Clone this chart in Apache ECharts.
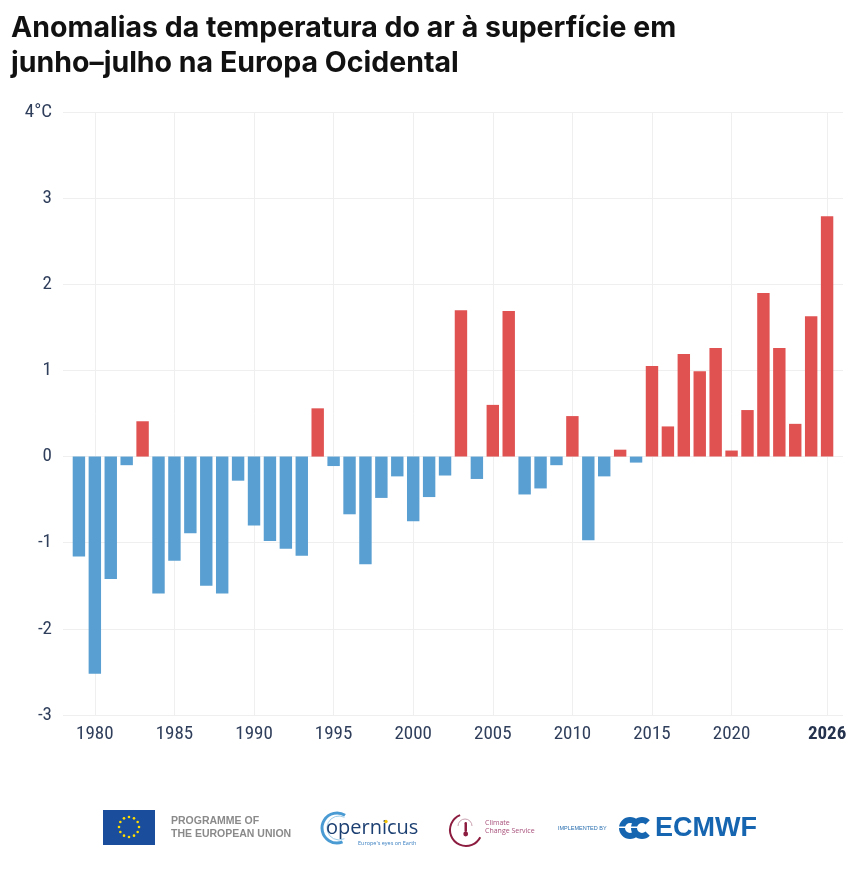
<!DOCTYPE html>
<html>
<head>
<meta charset="utf-8">
<script src="https://cdn.jsdelivr.net/npm/echarts@6/dist/echarts.min.js"></script>
<style>
html,body{margin:0;padding:0;background:#fff;}
#chart{width:860px;height:869px;}
</style>
</head>
<body>
<div id="chart"></div>
<script>
// ---- data ----
var titleLines = ['Anomalias da temperatura do ar à superfície em', 'junho–julho na Europa Ocidental'];
var years = [1979,1980,1981,1982,1983,1984,1985,1986,1987,1988,1989,1990,1991,1992,1993,1994,1995,1996,1997,1998,1999,2000,2001,2002,2003,2004,2005,2006,2007,2008,2009,2010,2011,2012,2013,2014,2015,2016,2017,2018,2019,2020,2021,2022,2023,2024,2025,2026];
var anomalies = [-1.16,-2.52,-1.42,-0.10,0.41,-1.59,-1.21,-0.89,-1.50,-1.59,-0.28,-0.80,-0.98,-1.07,-1.15,0.56,-0.11,-0.67,-1.25,-0.48,-0.23,-0.75,-0.47,-0.22,1.70,-0.26,0.60,1.69,-0.44,-0.37,-0.10,0.47,-0.97,-0.23,0.08,-0.07,1.05,0.35,1.19,0.99,1.26,0.07,0.54,1.90,1.26,0.38,1.63,2.79];
var labelYears = [1980,1985,1990,1995,2000,2005,2010,2015,2020,2026];
var highlightYear = 2026;
var yTicks = {min:-3, max:4, interval:1, unit:'°C'};

// padded categories (one empty slot either side)
var cats = [String(years[0]-1)].concat(years.map(String)).concat([String(years[years.length-1]+1)]);
var vals = [null].concat(anomalies).concat([null]);

var posColor = '#e05252';
var negColor = '#5a9fd1';
var tickFont = "'Roboto Condensed','Liberation Sans Narrow','Arial Narrow',Roboto,sans-serif";
var tickColor = '#2f3e5b';

function isLabelYear(idx, val){ return labelYears.indexOf(Number(val)) >= 0; }

// footer decoration
var stars = [];
for (var i=0;i<12;i++){
  var a = i*Math.PI/6;
  stars.push({type:'circle', shape:{cx:129+10*Math.cos(a), cy:827+10*Math.sin(a), r:1.3}, style:{fill:'#ffdd00'}, silent:true});
}

var chart = echarts.init(document.getElementById('chart'), null, {renderer:'canvas'});
chart.setOption({
  animation:false,
  backgroundColor:'#ffffff',
  title:{
    text: titleLines.join('\n'),
    left: 6, top: 6,
    textStyle:{fontFamily:'Inter, "Noto Sans", sans-serif', fontWeight:700, fontSize:28.5, lineHeight:35, color:'#111111'}
  },
  grid:{left:63, right:17, top:112, bottom:154, containLabel:false},
  xAxis:{
    type:'category',
    data:cats,
    boundaryGap:false,
    axisLine:{show:false},
    axisTick:{show:false},
    axisLabel:{
      interval:isLabelYear,
      margin:10,
      fontFamily:tickFont, fontSize:19, color:tickColor,
      formatter:function(v){ return Number(v)===highlightYear ? '{b|'+v+'}' : v; },
      rich:{b:{fontFamily:tickFont, fontSize:19, fontWeight:'bold', color:'#24324d'}}
    },
    splitLine:{show:true, interval:isLabelYear, lineStyle:{color:'#efefef', width:1}}
  },
  yAxis:{
    type:'value',
    min:yTicks.min, max:yTicks.max, interval:yTicks.interval,
    axisLine:{show:false}, axisTick:{show:false},
    axisLabel:{
      margin:11,
      fontFamily:tickFont, fontSize:19, color:tickColor,
      formatter:function(v){ return v===yTicks.max ? v+yTicks.unit : String(v); }
    },
    splitLine:{lineStyle:{color:'#efefef', width:1}}
  },
  series:[{
    type:'bar',
    data:vals,
    barWidth:'78%',
    itemStyle:{color:function(p){ return p.value>=0 ? posColor : negColor; }}
  }],
  graphic:[
    {type:'rect', shape:{x:103, y:810, width:52, height:35}, style:{fill:'#1a4d9c'}, silent:true}
  ].concat(stars).concat([
    {type:'text', x:171, y:815, style:{text:'PROGRAMME OF\nTHE EUROPEAN UNION', fill:'#8a8a8a', font:'bold 10.5px "Liberation Sans", Arial, sans-serif', lineHeight:12.5}, silent:true},
    // Copernicus
    {type:'arc', shape:{cx:337, cy:828, r:15, startAngle:-Math.PI*0.32, endAngle:Math.PI*0.38, clockwise:false}, style:{stroke:'#4a9bd3', lineWidth:3, fill:null}, silent:true},
    {type:'arc', shape:{cx:339, cy:828, r:12, startAngle:-Math.PI*0.35, endAngle:Math.PI*0.35, clockwise:false}, style:{stroke:'#9ccbe8', lineWidth:1, fill:null}, silent:true},
    {type:'text', x:326, y:818, style:{text:'opernicus', fill:'#1c3f72', font:'20px "Open Sans", "Noto Sans", sans-serif'}, silent:true},
    {type:'circle', shape:{cx:386, cy:821.5, r:1.7}, style:{fill:'#f2c100'}, silent:true},
    {type:'text', x:358, y:840, style:{text:"Europe's eyes on Earth", fill:'#3a7fc1', font:'5.5px "Open Sans", sans-serif'}, silent:true},
    // Climate Change Service
    {type:'arc', shape:{cx:466, cy:830, r:16, startAngle:-Math.PI*0.62, endAngle:Math.PI*0.15, clockwise:false}, style:{stroke:'#8c1d40', lineWidth:2, fill:null}, silent:true},
    {type:'arc', shape:{cx:465, cy:826, r:7, startAngle:-Math.PI, endAngle:0}, style:{stroke:'#c9a0b0', lineWidth:1, fill:null}, silent:true},
    {type:'rect', shape:{x:464.5, y:822, width:2.5, height:10, r:1.2}, style:{fill:'#8c1d40'}, silent:true},
    {type:'circle', shape:{cx:465.7, cy:834, r:2.4}, style:{fill:'#8c1d40'}, silent:true},
    {type:'text', x:485, y:819, style:{text:'Climate\nChange Service', fill:'#a8507a', font:'7px "Open Sans", sans-serif', lineHeight:8}, silent:true},
    // ECMWF
    {type:'text', x:558, y:825, style:{text:'IMPLEMENTED BY', fill:'#2a6fb0', font:'5.5px "Liberation Sans Narrow", Arial, sans-serif'}, silent:true},
    {type:'arc', shape:{cx:630, cy:828, r:8, startAngle:-Math.PI*0.25, endAngle:Math.PI*0.25, clockwise:false}, style:{stroke:'#1565b0', lineWidth:6, fill:null}, silent:true},
    {type:'arc', shape:{cx:642, cy:828, r:8, startAngle:-Math.PI*0.25, endAngle:Math.PI*0.25, clockwise:false}, style:{stroke:'#1565b0', lineWidth:6, fill:null}, silent:true},
    {type:'rect', shape:{x:618, y:826.5, width:32, height:1.5}, style:{fill:'#ffffff'}, silent:true},
    {type:'text', x:655, y:815, style:{text:'ECMWF', fill:'#1565b0', font:'bold 27px "Liberation Sans", Arial, sans-serif'}, silent:true}
  ])
});
</script>
</body>
</html>
